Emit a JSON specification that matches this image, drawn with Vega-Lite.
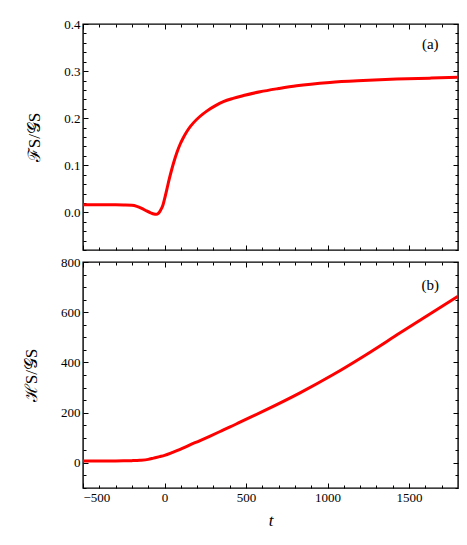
{
  "$schema": "https://vega.github.io/schema/vega-lite/v6.json",
  "background": "white",
  "padding": {"left": 21, "top": 17, "right": 5, "bottom": 5},
  "spacing": 12,
  "bounds": "flush",
  "config": {
    "font": "Liberation Serif",
    "view": {"stroke": "black", "strokeWidth": 1.4},
    "axis": {
      "domain": false,
      "grid": false,
      "tickColor": "black",
      "tickWidth": 1,
      "tickSize": -5,
      "labelPadding": 8,
      "labelFont": "Liberation Serif",
      "labelFontSize": 13,
      "labelColor": "black",
      "titleFont": "Liberation Serif",
      "titleFontSize": 17,
      "titleFontWeight": "normal",
      "titleColor": "black"
    }
  },
  "vconcat": [
    {
      "width": 375,
      "height": 226,
      "resolve": {"scale": {"x": "independent", "y": "independent"}},
      "layer": [
        {
          "data": {"values": [
            {"t": -500, "v": 0.016}, {"t": -400, "v": 0.016}, {"t": -300, "v": 0.0159},
            {"t": -250, "v": 0.0156}, {"t": -200, "v": 0.015}, {"t": -170, "v": 0.0128},
            {"t": -140, "v": 0.0085}, {"t": -110, "v": 0.003}, {"t": -85, "v": -0.001},
            {"t": -65, "v": -0.0035}, {"t": -50, "v": -0.004}, {"t": -38, "v": -0.002},
            {"t": -25, "v": 0.004}, {"t": -10, "v": 0.015},
            {"t": 0, "v": 0.028}, {"t": 15, "v": 0.05}, {"t": 30, "v": 0.072},
            {"t": 45, "v": 0.092}, {"t": 60, "v": 0.11}, {"t": 76, "v": 0.127},
            {"t": 95, "v": 0.144}, {"t": 116, "v": 0.159}, {"t": 145, "v": 0.176},
            {"t": 177, "v": 0.19}, {"t": 215, "v": 0.203}, {"t": 259, "v": 0.215},
            {"t": 310, "v": 0.226}, {"t": 361, "v": 0.235}, {"t": 420, "v": 0.242},
            {"t": 484, "v": 0.248}, {"t": 586, "v": 0.256}, {"t": 700, "v": 0.263},
            {"t": 810, "v": 0.269}, {"t": 1014, "v": 0.276}, {"t": 1218, "v": 0.28},
            {"t": 1423, "v": 0.283}, {"t": 1627, "v": 0.285}, {"t": 1800, "v": 0.287}
          ]},
          "mark": {"type": "line", "color": "#ff0000", "strokeWidth": 3, "clip": true, "interpolate": "monotone"},
          "encoding": {
            "x": {"field": "t", "type": "quantitative",
              "scale": {"domain": [-500, 1800], "nice": false, "zero": false},
              "axis": {"orient": "bottom", "values": [-500, 0, 500, 1000, 1500], "labels": false, "title": null}},
            "y": {"field": "v", "type": "quantitative",
              "scale": {"domain": [-0.08, 0.4], "nice": false, "zero": false},
              "axis": {"orient": "left", "values": [0, 0.1, 0.2, 0.3, 0.4], "format": ".1f", "title": "ℱS/𝒢S", "titlePadding": 20}}
          }
        },
        {
          "data": {"values": [{"t": 1630, "v": 0.357, "label": "(a)"}]},
          "mark": {"type": "text", "font": "Liberation Serif", "fontSize": 15, "color": "black", "align": "center", "baseline": "middle"},
          "encoding": {
            "x": {"field": "t", "type": "quantitative",
              "scale": {"domain": [-500, 1800], "nice": false, "zero": false},
              "axis": {"orient": "top", "values": [-500, 0, 500, 1000, 1500], "labels": false, "title": null}},
            "y": {"field": "v", "type": "quantitative",
              "scale": {"domain": [-0.08, 0.4], "nice": false, "zero": false},
              "axis": {"orient": "right", "values": [0, 0.1, 0.2, 0.3, 0.4], "labels": false, "title": null}},
            "text": {"field": "label"}
          }
        },
        {
          "data": {"values": [{"t": 1630, "v": 0.357}]},
          "mark": {"type": "point", "opacity": 0},
          "encoding": {
            "x": {"field": "t", "type": "quantitative",
              "scale": {"domain": [-500, 1800], "nice": false, "zero": false},
              "axis": {"orient": "bottom", "values": [-400, -300, -200, -100, 100, 200, 300, 400, 600, 700, 800, 900, 1100, 1200, 1300, 1400, 1600, 1700], "tickSize": -3, "labels": false, "title": null}},
            "y": {"field": "v", "type": "quantitative",
              "scale": {"domain": [-0.08, 0.4], "nice": false, "zero": false},
              "axis": {"orient": "left", "values": [-0.08, -0.06, -0.04, -0.02, 0.02, 0.04, 0.06, 0.08, 0.12, 0.14, 0.16, 0.18, 0.22, 0.24, 0.26, 0.28, 0.32, 0.34, 0.36, 0.38], "tickSize": -3, "labels": false, "title": null}}
          }
        },
        {
          "data": {"values": [{"t": 1630, "v": 0.357}]},
          "mark": {"type": "point", "opacity": 0},
          "encoding": {
            "x": {"field": "t", "type": "quantitative",
              "scale": {"domain": [-500, 1800], "nice": false, "zero": false},
              "axis": {"orient": "top", "values": [-400, -300, -200, -100, 100, 200, 300, 400, 600, 700, 800, 900, 1100, 1200, 1300, 1400, 1600, 1700], "tickSize": -3, "labels": false, "title": null}},
            "y": {"field": "v", "type": "quantitative",
              "scale": {"domain": [-0.08, 0.4], "nice": false, "zero": false},
              "axis": {"orient": "right", "values": [-0.08, -0.06, -0.04, -0.02, 0.02, 0.04, 0.06, 0.08, 0.12, 0.14, 0.16, 0.18, 0.22, 0.24, 0.26, 0.28, 0.32, 0.34, 0.36, 0.38], "tickSize": -3, "labels": false, "title": null}}
          }
        }
      ]
    },
    {
      "width": 375,
      "height": 226,
      "resolve": {"scale": {"x": "independent", "y": "independent"}},
      "layer": [
        {
          "data": {"values": [
            {"t": -500, "h": 8}, {"t": -400, "h": 8}, {"t": -300, "h": 8},
            {"t": -250, "h": 8.3}, {"t": -200, "h": 9}, {"t": -150, "h": 10.5},
            {"t": -100, "h": 14}, {"t": -68, "h": 19}, {"t": -30, "h": 25},
            {"t": 0, "h": 30}, {"t": 50, "h": 42}, {"t": 96, "h": 54},
            {"t": 150, "h": 70}, {"t": 218, "h": 89}, {"t": 280, "h": 107},
            {"t": 341, "h": 125}, {"t": 402, "h": 143}, {"t": 463, "h": 162},
            {"t": 606, "h": 206}, {"t": 831, "h": 279}, {"t": 1035, "h": 352},
            {"t": 1239, "h": 432}, {"t": 1443, "h": 517}, {"t": 1647, "h": 601},
            {"t": 1800, "h": 664}
          ]},
          "mark": {"type": "line", "color": "#ff0000", "strokeWidth": 3, "clip": true, "interpolate": "monotone"},
          "encoding": {
            "x": {"field": "t", "type": "quantitative",
              "scale": {"domain": [-500, 1800], "nice": false, "zero": false},
              "axis": {"orient": "bottom", "values": [-500, 0, 500, 1000, 1500], "format": "d", "title": "t", "titleFontStyle": "italic", "titlePadding": 8}},
            "y": {"field": "h", "type": "quantitative",
              "scale": {"domain": [-100, 800], "nice": false, "zero": false},
              "axis": {"orient": "left", "values": [0, 200, 400, 600, 800], "format": "d", "title": "ℋS/𝒢S", "titlePadding": 20}}
          }
        },
        {
          "data": {"values": [{"t": 1630, "h": 710, "label": "(b)"}]},
          "mark": {"type": "text", "font": "Liberation Serif", "fontSize": 15, "color": "black", "align": "center", "baseline": "middle"},
          "encoding": {
            "x": {"field": "t", "type": "quantitative",
              "scale": {"domain": [-500, 1800], "nice": false, "zero": false},
              "axis": {"orient": "top", "values": [-500, 0, 500, 1000, 1500], "labels": false, "title": null}},
            "y": {"field": "h", "type": "quantitative",
              "scale": {"domain": [-100, 800], "nice": false, "zero": false},
              "axis": {"orient": "right", "values": [0, 200, 400, 600, 800], "labels": false, "title": null}},
            "text": {"field": "label"}
          }
        },
        {
          "data": {"values": [{"t": 1630, "h": 710}]},
          "mark": {"type": "point", "opacity": 0},
          "encoding": {
            "x": {"field": "t", "type": "quantitative",
              "scale": {"domain": [-500, 1800], "nice": false, "zero": false},
              "axis": {"orient": "bottom", "values": [-400, -300, -200, -100, 100, 200, 300, 400, 600, 700, 800, 900, 1100, 1200, 1300, 1400, 1600, 1700], "tickSize": -3, "labels": false, "title": null}},
            "y": {"field": "h", "type": "quantitative",
              "scale": {"domain": [-100, 800], "nice": false, "zero": false},
              "axis": {"orient": "left", "values": [-100, -50, 50, 100, 150, 250, 300, 350, 450, 500, 550, 650, 700, 750], "tickSize": -3, "labels": false, "title": null}}
          }
        },
        {
          "data": {"values": [{"t": 1630, "h": 710}]},
          "mark": {"type": "point", "opacity": 0},
          "encoding": {
            "x": {"field": "t", "type": "quantitative",
              "scale": {"domain": [-500, 1800], "nice": false, "zero": false},
              "axis": {"orient": "top", "values": [-400, -300, -200, -100, 100, 200, 300, 400, 600, 700, 800, 900, 1100, 1200, 1300, 1400, 1600, 1700], "tickSize": -3, "labels": false, "title": null}},
            "y": {"field": "h", "type": "quantitative",
              "scale": {"domain": [-100, 800], "nice": false, "zero": false},
              "axis": {"orient": "right", "values": [-100, -50, 50, 100, 150, 250, 300, 350, 450, 500, 550, 650, 700, 750], "tickSize": -3, "labels": false, "title": null}}
          }
        }
      ]
    }
  ]
}
